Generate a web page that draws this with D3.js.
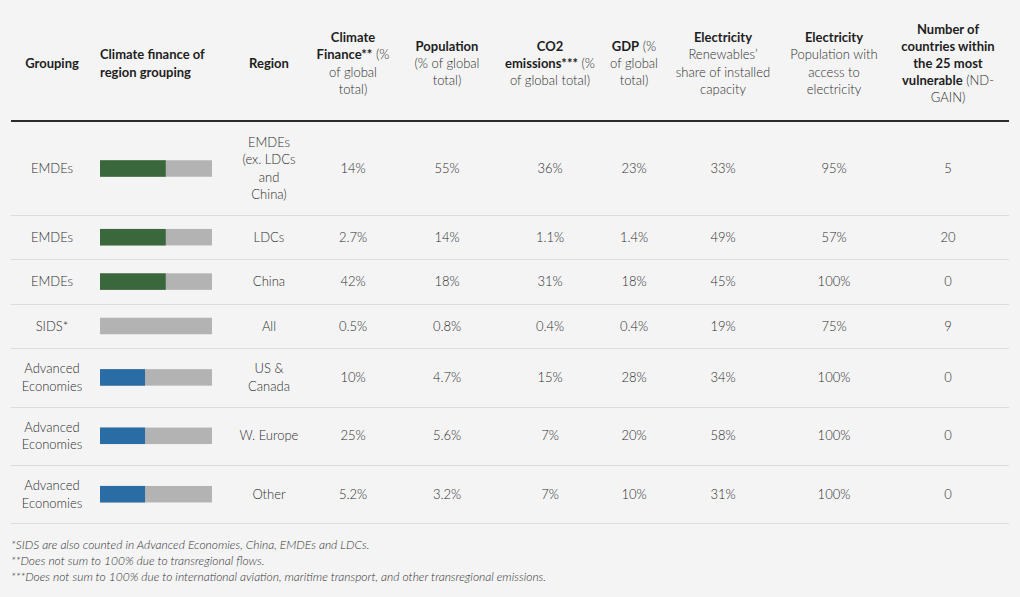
<!DOCTYPE html>
<html>
<head>
<meta charset="utf-8">
<script src="https://cdn.jsdelivr.net/npm/d3@7/dist/d3.min.js"></script>
<style>
  html, body { margin: 0; padding: 0; background: #f4f4f4; }
  svg { display: block; font-family: Lato, "Open Sans", sans-serif; }
</style>
</head>
<body>
<svg id="chart" width="1020" height="597"></svg>
<script>
// ---------- data ----------
const groupings = ["EMDEs", "EMDEs", "EMDEs", "SIDS*", "Advanced|Economies", "Advanced|Economies", "Advanced|Economies"];
const groupKey = ["emde", "emde", "emde", "sids", "adv", "adv", "adv"];
const groupShare = [58.7, 58.7, 58.7, 0.5, 40.2, 40.2, 40.2]; // climate finance share of region grouping (%)
const regions = ["EMDEs|(ex. LDCs|and|China)", "LDCs", "China", "All", "US &|Canada", "W. Europe", "Other"];
const climateFinance = ["14%", "2.7%", "42%", "0.5%", "10%", "25%", "5.2%"];
const population = ["55%", "14%", "18%", "0.8%", "4.7%", "5.6%", "3.2%"];
const co2 = ["36%", "1.1%", "31%", "0.4%", "15%", "7%", "7%"];
const gdp = ["23%", "1.4%", "18%", "0.4%", "28%", "20%", "10%"];
const renewables = ["33%", "49%", "45%", "19%", "34%", "58%", "31%"];
const access = ["95%", "57%", "100%", "75%", "100%", "100%", "100%"];
const vulnerable = ["5", "20", "0", "9", "0", "0", "0"];

// header labels: each line is a list of [text, bold]
const headers = [
  [[["Grouping", 1]]],
  [[["Climate finance of", 1]], [["region grouping", 1]]],
  [[["Region", 1]]],
  [[["Climate", 1]], [["Finance**", 1], [" (%", 0]], [["of global", 0]], [["total)", 0]]],
  [[["Population", 1]], [["(% of global", 0]], [["total)", 0]]],
  [[["CO2", 1]], [["emissions***", 1], [" (%", 0]], [["of global total)", 0]]],
  [[["GDP", 1], [" (%", 0]], [["of global", 0]], [["total)", 0]]],
  [[["Electricity", 1]], [["Renewables\u2019", 0]], [["share of installed", 0]], [["capacity", 0]]],
  [[["Electricity", 1]], [["Population with", 0]], [["access to", 0]], [["electricity", 0]]],
  [[["Number of", 1]], [["countries within", 1]], [["the 25 most", 1]], [["vulnerable", 1], [" (ND-", 0]], [["GAIN)", 0]]]
];

const footnotes = [
  "*SIDS are also counted in Advanced Economies, China, EMDEs and LDCs.",
  "**Does not sum to 100% due to transregional flows.",
  "***Does not sum to 100% due to international aviation, maritime transport, and other transregional emissions."
];

// ---------- layout ----------
const svg = d3.select("#chart");
const left = 11, right = 1009;
const colX = [52, 100, 269, 353, 447, 550, 634, 723, 834, 948];
const colAnchor = ["middle", "start", "middle", "middle", "middle", "middle", "middle", "middle", "middle", "middle"];
const lineH = 17.2;
const headerMid = 63.5;
const headerRule = 121;
const color = { emde: "#3a683c", adv: "#2a6ca4", sids: "#b3b3b3" };
const regW = 300;
const txt = "#2e2e2e";

// header
headers.forEach((lines, i) => {
  const t = svg.append("text")
    .attr("text-anchor", colAnchor[i])
    .attr("font-size", 13)
    .attr("fill", "#1e1e1e");
  const y0 = headerMid - (lines.length - 1) * lineH / 2;
  lines.forEach((segs, li) => {
    segs.forEach((s, si) => {
      const ts = t.append("tspan")
        .attr("font-weight", s[1] ? 700 : regW)
        .attr("fill", s[1] ? "#1e1e1e" : txt)
        .text(s[0]);
      if (si === 0) ts.attr("x", colX[i]).attr("y", y0 + li * lineH).attr("dy", "0.35em");
    });
  });
});

svg.append("line")
  .attr("x1", left).attr("x2", right)
  .attr("y1", headerRule).attr("y2", headerRule)
  .attr("stroke", "#2b2b2b").attr("stroke-width", 2);

// rows
const nLines = regions.map((r, i) => Math.max(r.split("|").length, groupings[i].split("|").length));
const rowH = nLines.map(n => Math.max(44.4, n * 17.3 + 23.8));
const rowTop = [];
let acc = headerRule + 1;
rowH.forEach(h => { rowTop.push(acc); acc += h; });

const barX = d3.scaleLinear().domain([0, 100]).range([100, 212]);
const barH = 16.5;

const cols = [climateFinance, population, co2, gdp, renewables, access, vulnerable];

function multiText(x, yc, str, anchor) {
  const lines = str.split("|");
  const t = svg.append("text").attr("text-anchor", anchor)
    .attr("font-size", 13).attr("font-weight", regW).attr("fill", txt);
  const y0 = yc - (lines.length - 1) * 17.5 / 2;
  lines.forEach((l, li) => t.append("tspan").attr("x", x).attr("y", y0 + li * 17.5).attr("dy", "0.35em").text(l));
}

regions.forEach((r, i) => {
  const yc = rowTop[i] + rowH[i] / 2;
  multiText(colX[0], yc, groupings[i], "middle");
  // bar: background full, foreground share
  svg.append("rect")
    .attr("x", barX(0)).attr("width", barX(100) - barX(0))
    .attr("y", yc - barH / 2).attr("height", barH)
    .attr("fill", "#b3b3b3");
  if (groupKey[i] !== "sids") {
    svg.append("rect")
      .attr("x", barX(0)).attr("width", barX(groupShare[i]) - barX(0))
      .attr("y", yc - barH / 2).attr("height", barH)
      .attr("fill", color[groupKey[i]]);
  }
  multiText(colX[2], yc, r, "middle");
  cols.forEach((c, ci) => multiText(colX[3 + ci], yc, c[i], "middle"));
  // separator
  const yb = rowTop[i] + rowH[i];
  svg.append("line")
    .attr("x1", left).attr("x2", right)
    .attr("y1", Math.round(yb) + 0.5).attr("y2", Math.round(yb) + 0.5)
    .attr("stroke", "#dcdcdc").attr("stroke-width", 1);
});

// footnotes
footnotes.forEach((f, i) => {
  svg.append("text")
    .attr("x", 11).attr("y", 545 + i * 16).attr("dy", "0.35em")
    .attr("font-size", 12).attr("font-style", "italic").attr("font-weight", regW).attr("fill", "#333")
    .text(f);
});
</script>
</body>
</html>
